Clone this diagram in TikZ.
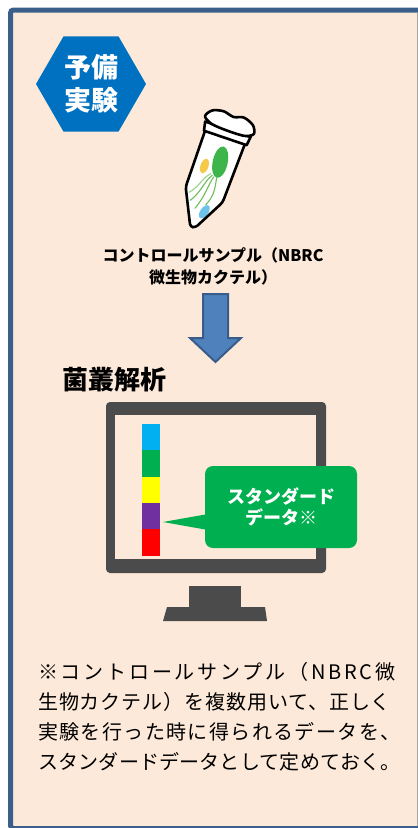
\documentclass[tikz,border=0pt]{standalone}
\usepackage{fontspec}
\setmainfont{Noto Sans CJK JP}
\usetikzlibrary{shapes.geometric}

\definecolor{panel}{HTML}{FDE9D9}
\definecolor{frameblue}{HTML}{3A5F8B}
\definecolor{hexblue}{HTML}{0070C0}
\definecolor{arrowfill}{HTML}{4F81BD}
\definecolor{arrowline}{HTML}{385D8A}
\definecolor{monitorgray}{HTML}{4B4B4B}
\definecolor{calloutgreen}{HTML}{00B050}
\definecolor{barblue}{HTML}{00B0F0}
\definecolor{bargreen}{HTML}{00B050}
\definecolor{baryellow}{HTML}{FFFF00}
\definecolor{barpurple}{HTML}{7030A0}
\definecolor{barred}{HTML}{FF0000}
\definecolor{cellgreen}{HTML}{3DB54A}
\definecolor{flagellum}{HTML}{6DBE5A}
\definecolor{cellyellow}{HTML}{F6C94A}
\definecolor{cellblue}{HTML}{6EC3EA}

\tikzset{
  tubeline/.style={black, line width=2.6pt, line join=round, line cap=round},
  flagline/.style={flagellum, line width=1.1pt, line cap=round},
  labeltext/.style={font=\bfseries\fontsize{16}{20}\selectfont, inner sep=0pt},
  notetext/.style={font=\fontsize{20}{30}\selectfont, inner sep=0pt, anchor=base west},
  calloutbox/.style={fill=calloutgreen, rounded corners=8pt, text=white,
    font=\bfseries\fontsize{18}{21}\selectfont, align=center, inner sep=0pt},
}

\begin{document}
\begin{tikzpicture}[x=1pt,y=-1pt]
\useasboundingbox (0,0) rectangle (418,828);

% panel and its frame
\fill[panel] (10.5,10) rectangle (422,828);
\draw[frameblue, line width=5pt, rounded corners=3pt] (10.5,10) rectangle (428,828.5);
\draw[gray!70, line width=1pt] (417.3,12.5) -- (417.3,826);

% hexagonal badge
\node[regular polygon, regular polygon sides=6, minimum size=110pt, inner sep=0pt,
      fill=hexblue] (badge) at (91,84) {};
\node[text=white, font=\bfseries\fontsize{27}{33}\selectfont, align=center, inner sep=0pt]
      (badgetext) at (badge.center) {予備\\実験};

% sample tube
\begin{scope}[shift={(212,173)}, rotate=-20]
  \fill[white] (-21,-38) -- (-20,22) -- (-3,58) -- (4,58) -- (20,24) -- (21,-38) -- cycle;
  \fill[cellgreen, rotate around={8:(4,-13)}] (4,-13) ellipse (7.5 and 16);
  \fill[cellyellow] (-9.5,-4) ellipse (4 and 7.5);
  \fill[cellblue, rotate around={-15:(6,39)}] (6,39) ellipse (4 and 7.5);
  \draw[flagline] (1,2) .. controls (-5,12) and (-3,20) .. (-11,33);
  \draw[flagline] (3,3) .. controls (0,14) and (2,23) .. (-4,39);
  \draw[flagline] (6,3) .. controls (8,13) and (10,21) .. (5,32);
  \draw[flagline, flagellum!70] (-1,1) .. controls (-8,9) and (-7,17) .. (-15,26);
  \draw[tubeline, rounded corners=3pt] (-21,-38) -- (-20,22) -- (-2,58) -- (3,57) -- (20,24) -- (21,-38);
  \draw[tubeline, fill=white] (-24,-46) -- (24,-47) -- (23,-38) -- (-22,-37) -- cycle;
  \draw[tubeline, fill=white] plot[smooth cycle] coordinates
    {(-26,-51) (-21,-59) (-10,-62) (1,-60) (11,-63) (22,-59) (26,-51) (18,-46) (0,-45) (-17,-46)};
\end{scope}

% sample label
\node[labeltext, anchor=base] (lab1) at (213,261.5) {コントロールサンプル（NBRC};
\node[labeltext, anchor=base] (lab2) at (213,283) {微生物カクテル）};

% block arrow down to the analysis step
\draw[arrowline, fill=arrowfill, line width=2pt, line join=miter]
  (203,294) -- (228,294) -- (228,338) -- (241,338) -- (215.5,362) -- (190,338) -- (203,338) -- cycle;

\node[font=\bfseries\fontsize{26}{30}\selectfont, inner sep=0pt, anchor=base west]
  (analysis) at (62,389.5) {菌叢解析};

% monitor
\fill[monitorgray, rounded corners=4pt] (106,402) rectangle (326,573);
\fill[panel] (115,415) rectangle (316,559);
\fill[monitorgray] (189,586) rectangle (241,608);
\fill[monitorgray] (167,607) -- (265,607) -- (267,621) -- (163,621) -- cycle;

% colour bar on the screen
\fill[barblue]   (142,424) rectangle (160,450);
\fill[bargreen]  (142,450) rectangle (160,477);
\fill[baryellow] (142,477) rectangle (160,503);
\fill[barpurple] (142,503) rectangle (160,529);
\fill[barred]    (142,529) rectangle (160,556);

% callout
\node[calloutbox, minimum width=152pt, minimum height=82pt] (note) at (281,507)
  {スタンダード\\データ※};
\coordinate (pa) at (208,514);
\coordinate (pb) at (208,530);
\coordinate (tip) at (163,522);
\fill[calloutgreen] (pa) -- (tip) -- (pb) -- cycle;

% footnote
\node[notetext] (n1) at (38,679) {\addfontfeatures{LetterSpace=14}※コントロールサンプル（NBRC微};
\node[notetext] (n2) at (38,709) {\addfontfeatures{LetterSpace=4.5}生物カクテル）を複数用いて、正しく};
\node[notetext] (n3) at (38,739) {\addfontfeatures{LetterSpace=7}実験を行った時に得られるデータを、};
\node[notetext] (n4) at (38,769) {\addfontfeatures{LetterSpace=1}スタンダードデータとして定めておく。};
\end{tikzpicture}
\end{document}
